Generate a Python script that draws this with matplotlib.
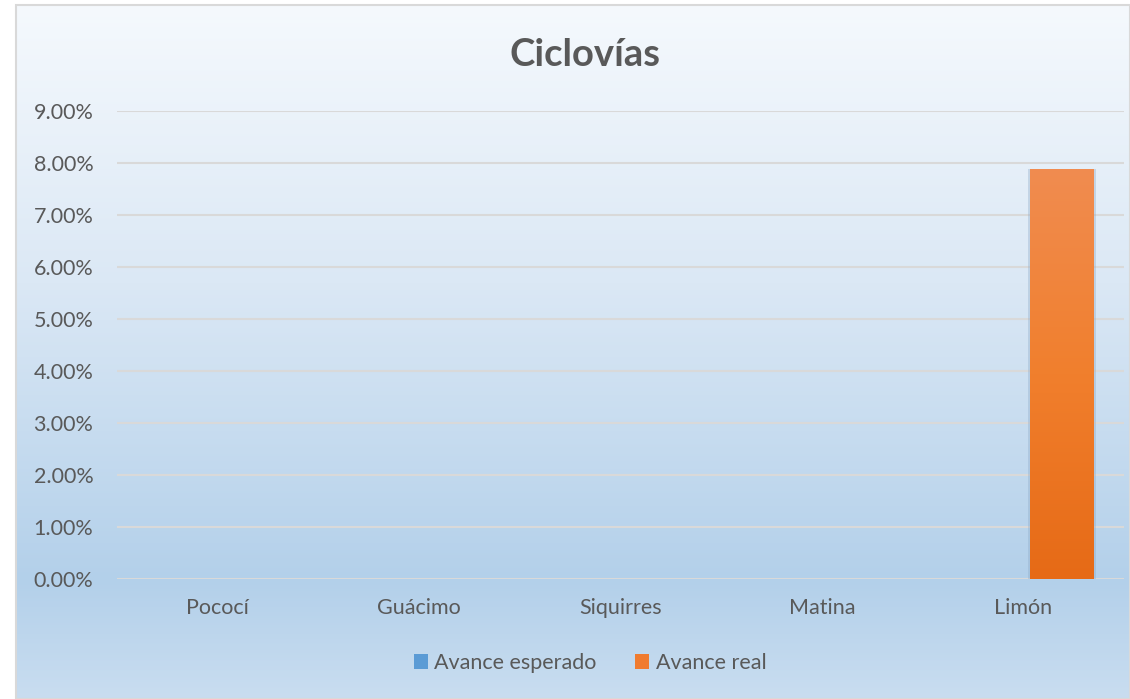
import numpy as np
import matplotlib
matplotlib.use("Agg")
import matplotlib.pyplot as plt
from matplotlib.colors import LinearSegmentedColormap
from matplotlib.patches import Rectangle

categories = ["Pococí", "Guácimo", "Siquirres", "Matina", "Limón"]
avance_esperado = [0.0, 0.0, 0.0, 0.0, 0.0]
avance_real = [0.0, 0.0, 0.0, 0.0, 7.88]
yticks = [0, 1, 2, 3, 4, 5, 6, 7, 8, 9]
title = "Ciclovías"

plt.rcParams['font.family'] = ['Lato', 'DejaVu Sans']
txt = '#595959'

W, H = 1130, 699
fig = plt.figure(figsize=(W/100, H/100), dpi=100)
fig.patch.set_facecolor('white')

# background gradient chart area
bg = fig.add_axes([16/W, 0, 1 - 16/W, 1 - 5/H])
bg.set_axis_off()
cmap = LinearSegmentedColormap.from_list('bg', [(0, '#f5f9fd'), (0.4, '#dbe8f5'), (0.83, '#b3d0ea'), (1.0, '#c9ddf0')])
grad = np.linspace(0, 1, 256).reshape(-1, 1)
bg.imshow(grad, aspect='auto', cmap=cmap, extent=[0, 1, 1, 0])
bg.set_xlim(0, 1); bg.set_ylim(1, 0)
bg.add_patch(Rectangle((0, 0), 1, 1, transform=bg.transAxes, fill=False, edgecolor='#d9d9d9', lw=1.5, clip_on=False))

x0, x1 = 117, 1124
ytop, ybot = 111, 579
ax = fig.add_axes([x0/W, (H - ybot)/H, (x1 - x0)/W, (ybot - ytop)/H])
ax.patch.set_alpha(0)
for s in ax.spines.values():
    s.set_visible(False)

x = np.arange(len(categories))
bw = 0.313
off = 0.035
ax.bar(x - off, avance_esperado, width=bw, align='edge', color='#4a8fd6', zorder=3)
bars = ax.bar(x + off, avance_real, width=bw, align='edge', color='#ed7d31', zorder=3)
# gradient on real bars
ocmap = LinearSegmentedColormap.from_list('or', ['#e66a16', '#f17f2d', '#f08c50'])
for b in bars:
    h = b.get_height()
    if h <= 0:
        continue
    bx, bwid = b.get_x(), b.get_width()
    ax.add_patch(Rectangle((bx - 0.012, -0.04), bwid + 0.024, h + 0.04, facecolor='#8aa8c6',
                           alpha=0.35, lw=0, zorder=2.8))
    b.set_facecolor('none')
    im = ax.imshow(np.linspace(0, 1, 256).reshape(-1, 1), aspect='auto', cmap=ocmap,
                   extent=[bx, bx + bwid, 0, h], origin='lower', zorder=3.5)
    im.set_clip_path(b)

ax.set_xlim(-0.5, len(categories) - 0.5)
ax.set_ylim(0, 9)
ax.set_yticks(yticks)
ax.set_yticklabels([f"{v:.2f}%" for v in yticks])
ax.set_xticks(x)
ax.set_xticklabels(categories)
ax.yaxis.grid(True, color='#d9d9d9', lw=1.5, zorder=0)
ax.set_axisbelow(True)
ax.tick_params(axis='both', length=0, labelsize=15.5, labelcolor=txt)
ax.tick_params(axis='y', pad=17)
ax.tick_params(axis='x', pad=14)

fig.text((510 + 660) / 2 / W, 1 - 55 / H, title, ha='center', va='center', fontsize=27.5,
         fontweight='bold', color=txt)

handles = [Rectangle((0, 0), 1, 1, facecolor='#5b9bd5', edgecolor='none'),
           Rectangle((0, 0), 1, 1, facecolor='#f07b2f', edgecolor='none')]
leg = fig.legend(handles, ['Avance esperado', 'Avance real'], loc='center',
                 bbox_to_anchor=(590 / W, 1 - 663 / H), ncol=2, frameon=False,
                 fontsize=15.5, labelcolor=txt, handlelength=0.65, handleheight=0.65,
                 handletextpad=0.3, columnspacing=1.8)

fig.savefig('out.png', dpi=100)
